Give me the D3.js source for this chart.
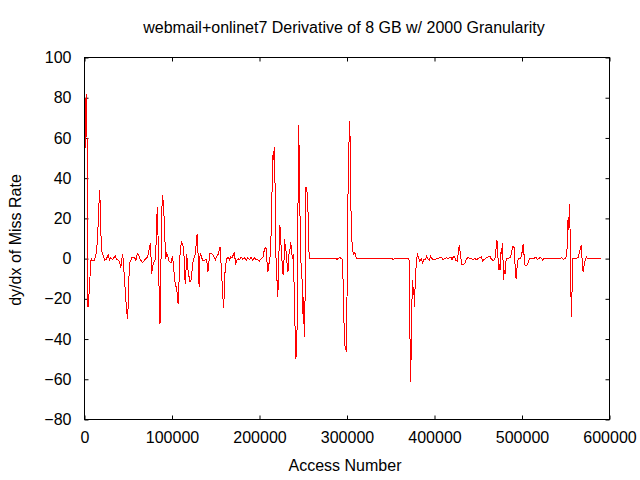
<!DOCTYPE html>
<html>
<head>
<meta charset="utf-8">
<script src="https://cdn.jsdelivr.net/npm/d3@7"></script>
<style>
  html, body { margin: 0; padding: 0; background: #fff; }
  svg { display: block; }
  text { font-family: "Liberation Sans", Arial, sans-serif; font-size: 16px; fill: #000; }
</style>
</head>
<body>
<svg id="chart" width="640" height="480"></svg>
<script>
const chartTitle = "webmail+onlinet7 Derivative of 8 GB w/ 2000 Granularity";
const xLabel = "Access Number";
const yLabel = "dy/dx of Miss Rate";
const xTicks = [0, 100000, 200000, 300000, 400000, 500000, 600000];
const yTicks = [-80, -60, -40, -20, 0, 20, 40, 60, 80, 100];

// [access number, dy/dx of miss rate]
const derivativePoints = [
[0,61],[1000,55],[1800,82],[2400,80],[3000,55],[3500,3],[4000,-24],[5000,-19],[6000,-11],[7000,-4],
[7500,0],[8400,-1],[11100,-1],[13000,1.6],[14200,5.8],[15300,14],[16500,27],[17200,34],[18000,27],[18700,12.4],
[19900,3.6],[21400,1.6],[22900,-0.9],[24500,-0.5],[26400,1.1],[27500,2],[28300,-0.9],[30200,0.5],[32100,-0.5],[34000,0.8],
[35200,1.3],[36700,-0.5],[39000,-0.9],[40500,-2.5],[41600,-4.5],[42400,-0.9],[43600,2.5],[44700,-3.8],[45800,-10.8],[47000,-18.8],
[48100,-25.7],[49300,-29.9],[50000,-22.4],[50800,-9.1],[52000,-1.7],[53100,-0.9],[54200,0.8],[55800,0.5],[57300,0.5],[58800,-0.9],
[60400,2.5],[61900,1.6],[63400,0],[64900,-1.2],[66500,-2],[68400,-0.9],[70300,0],[72200,0.8],[73300,3.3],[74500,5.8],
[75200,7.8],[76000,0.8],[76800,-7.5],[77900,-3.8],[79400,-1.7],[81000,-0.5],[81700,6.1],[82500,19],[83300,25.7],[84000,11.6],
[84800,-4.2],[85500,-22.4],[86300,-32.4],[87100,-15.8],[87800,15.7],[89000,31.5],[89700,29.3],[90500,25.7],[91600,12.4],[92800,0],
[93900,2.5],[95100,1.6],[96200,-0.9],[97800,-1.7],[99300,-2],[100400,1.3],[101600,-2.5],[102700,-9.1],[103900,-13.4],[105000,-14.1],
[106200,-18.3],[106900,-22.4],[107700,-19.1],[108400,-2.5],[109600,4.1],[110700,8.3],[111900,7.4],[113000,5.8],[113800,0.8],[114500,-8.8],
[115300,-12.5],[116100,-5],[116800,2.5],[118000,-5],[119100,-7.8],[120300,-11.6],[121400,-11.6],[122600,-7.5],[123700,-2.5],[124800,0],
[126000,0.8],[127100,4.1],[127900,9.4],[128700,12.4],[129400,9.1],[130200,-5.8],[131000,-14.1],[131700,0.8],[132900,2.5],[133600,0.8],
[135200,-0.9],[137100,-0.9],[139000,-0.4],[140100,-2.5],[140900,-6.7],[142000,-3.3],[142800,2.5],[144700,2.5],[146600,2.1],[148100,0.8],
[149700,-0.5],[151200,1.1],[152700,2.1],[155000,5.8],[156500,-5.8],[158100,-18.3],[158800,-24.4],[159600,-19.1],[160300,-8.3],[161500,-2.5],
[162600,0],[164200,0.5],[165700,-0.5],[167200,0.8],[168700,0.5],[170300,2.1],[171400,3.3],[172600,-3],[174100,-0.9],[175600,0],
[177100,-0.5],[179000,0.8],[181000,-0.4],[182900,0.5],[184800,-0.9],[186700,0.5],[188600,-0.5],[190500,0.8],[192400,-0.9],[194300,0.5],
[196200,-0.5],[198100,-0.5],[200000,-1.2],[201900,0],[203900,0.5],[205000,3.3],[206100,5],[207300,5.8],[208100,1.6],[208800,-3.3],
[209600,-6.7],[210300,-4.2],[211100,-1.7],[212300,1.6],[213000,8.3],[213800,23.2],[214500,37.3],[215300,51.4],[216100,48.9],[216800,55.5],
[217600,40.6],[218400,24],[219100,-10.8],[220300,-10.8],[221000,-19.1],[221800,-2.5],[222600,7.4],[223300,16.6],[224100,11.6],[224900,4.1],
[225600,0],[226400,-6.7],[227100,-8.3],[227900,-2.5],[228700,9.9],[229400,5.8],[230200,4.1],[231000,0.8],[231700,-4.2],[232500,-6.7],
[233300,-0.9],[234000,4.1],[234800,4.1],[235500,8.3],[236300,5.8],[237100,2.1],[237800,0],[238600,2.1],[239400,-10.8],[240100,-29],
[240900,-36.5],[241600,-49.8],[242400,-43.1],[243200,-30.7],[243900,20.7],[244700,66.3],[245500,48.9],[246200,24],[247000,0.8],[247800,-4.2],
[248500,-9.1],[249300,-19.1],[250000,-32.4],[250800,-19.1],[251600,-39],[252300,-9.1],[253100,35.6],[253900,34],[254600,32.3],[255400,24],
[256200,7.4],[256900,0],[287800,0],[288600,-0.4],[290000,0],[292000,0.5],[293500,0],[294700,-0.5],[295500,-10.8],[296600,-32.4],
[297700,-43.6],[298500,-44.8],[299300,-46.4],[300000,-19.9],[300800,21.5],[301900,53],[303100,68.3],[303800,53],[304600,23.2],[305800,7.4],
[306900,3.3],[308000,2.1],[308800,3.3],[310000,0.8],[311500,0],[351900,0],[352700,-0.5],[354600,0],[370300,0],[371000,-0.9],
[371800,-31.5],[372600,-61.4],[373300,-48.1],[374100,-24],[374800,-10.8],[375600,-18.3],[376400,-14.1],[377100,-24],[377900,-12.5],[378700,-5.8],
[379400,-0.9],[380600,2.1],[381700,0.8],[383200,-1.2],[384800,0],[386300,-2.2],[387800,-0.5],[389300,-0.5],[390900,1.1],[392400,0],
[393900,-0.9],[395500,1.1],[397000,0],[398500,-0.5],[400400,-0.5],[402300,0],[404200,0],[406100,0.5],[408100,0.5],[410000,-0.5],
[411900,0],[413800,0.5],[415700,0],[417600,0.5],[418700,0.8],[419900,-0.5],[421400,0.8],[422900,1.1],[424500,-0.9],[426000,-1.4],
[427100,2.8],[428300,6.6],[429100,4.1],[430200,0],[431300,-3],[432900,-3],[434800,-2.2],[436700,0],[438200,0.5],[440500,0],
[442400,0],[444300,-0.5],[446200,0],[448100,-0.5],[450000,0],[451900,0.5],[453800,0.8],[455000,-1.2],[456500,-0.5],[458000,0],
[459600,0.5],[461500,0.8],[463400,1.1],[465300,-0.5],[467200,-0.9],[468700,-0.5],[469900,2.1],[470600,6.6],[471400,9.1],[472200,4.1],
[472900,-2.5],[473700,-5.8],[474500,-2.5],[475200,-5.5],[476000,3.3],[476700,2.5],[477500,7.8],[478300,-0.9],[479000,-10.5],[479800,-5.8],
[480600,-7.5],[481300,-2.5],[482100,0],[484400,0],[486300,0.5],[487400,1.6],[488600,4.1],[489700,6.1],[490900,5.5],[492000,-2.5],
[493200,-10],[493900,-6.7],[494700,-2.5],[495800,0],[497700,0],[499300,1.1],[500400,4.1],[501200,7.1],[501900,4.1],[502700,0],
[503500,-3.3],[505400,-3.3],[507300,-1.7],[508400,0],[511100,0],[513000,0],[514900,0.5],[516100,0.8],[517600,-0.5],[519100,0],
[520600,0.5],[522500,0],[523700,-0.9],[525200,0],[543500,0],[545500,0.5],[547400,-0.5],[548900,0],[550400,0.8],[551200,2.5],
[551900,9.1],[552700,20.7],[553500,14.1],[554200,27],[555000,12.7],[555800,-15],[556500,-29],[557300,-14.1],[558000,0],[559600,0],
[561900,0],[564200,0.5],[565300,2.5],[566400,4.6],[567600,6.6],[568400,1.6],[569100,-3.3],[569900,-6.7],[570600,-4.2],[571400,-2.5],
[572600,0],[573700,0.8],[574800,0],[590100,0]
];

const W = 640, H = 480;
const plot = { left: 84.5, right: 609.5, top: 57.5, bottom: 419.5 };
const tickLen = 4;
const fontCss = '"Liberation Sans", Arial, sans-serif';

const svg = d3.select("#chart");

const x = d3.scaleLinear().domain([0, 600000]).range([plot.left, plot.right]);
const y = d3.scaleLinear().domain([-80, 100]).range([plot.bottom, plot.top]);

// Axes with inward ticks (gnuplot style), mirrored on top/right
const xAxisBottom = d3.axisBottom(x).tickValues(xTicks).tickSize(-tickLen).tickPadding(12).tickFormat(d3.format("d"));
const xAxisTop = d3.axisTop(x).tickValues(xTicks).tickSize(-tickLen).tickFormat("");
const yAxisLeft = d3.axisLeft(y).tickValues(yTicks).tickSize(-tickLen).tickPadding(13).tickFormat(d3.format("d"));
const yAxisRight = d3.axisRight(y).tickValues(yTicks).tickSize(-tickLen).tickFormat("");

function styleAxis(g) {
  g.select(".domain").remove();
  g.selectAll(".tick line").attr("stroke", "#000").attr("stroke-width", 1);
  g.selectAll(".tick text").attr("fill", "#000")
    .style("font-family", fontCss).style("font-size", "16px");
}

svg.append("g").attr("transform", `translate(0,${plot.bottom})`).call(xAxisBottom).call(styleAxis);
svg.append("g").attr("transform", `translate(0,${plot.top})`).call(xAxisTop).call(styleAxis);
svg.append("g").attr("transform", `translate(${plot.left},0)`).call(yAxisLeft).call(styleAxis);
svg.append("g").attr("transform", `translate(${plot.right},0)`).call(yAxisRight).call(styleAxis);

// Data line
const line = d3.line().x(d => x(d[0])).y(d => y(d[1]));
svg.append("path")
  .datum(derivativePoints)
  .attr("fill", "none")
  .attr("stroke", "#ff0000")
  .attr("stroke-width", 1)
  .attr("shape-rendering", "crispEdges")
  .attr("d", line);

// Frame
svg.append("rect")
  .attr("x", plot.left).attr("y", plot.top)
  .attr("width", plot.right - plot.left).attr("height", plot.bottom - plot.top)
  .attr("fill", "none").attr("stroke", "#000").attr("stroke-width", 1)
  .attr("shape-rendering", "crispEdges");

// Title and labels
svg.append("text").attr("x", 344).attr("y", 33).attr("text-anchor", "middle").text(chartTitle);
svg.append("text").attr("x", 345).attr("y", 471).attr("text-anchor", "middle").text(xLabel);
svg.append("text")
  .attr("transform", "translate(21,240) rotate(-90)")
  .attr("text-anchor", "middle")
  .text(yLabel);
</script>
</body>
</html>
